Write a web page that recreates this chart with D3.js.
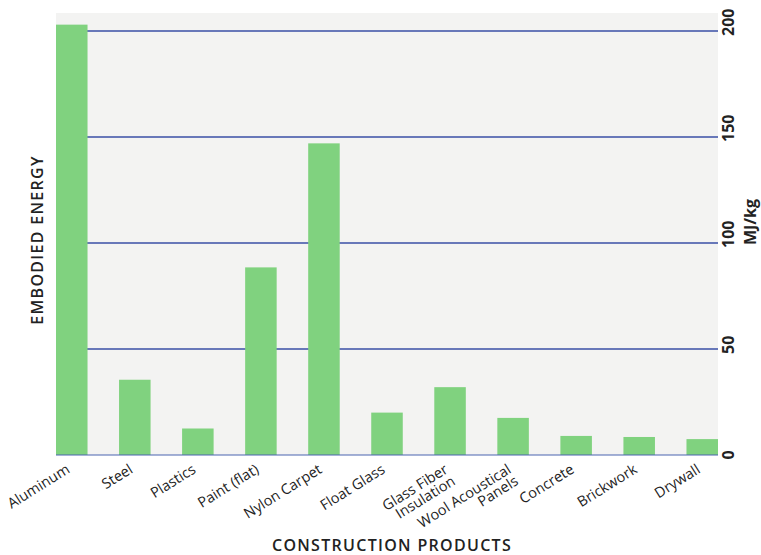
<!DOCTYPE html>
<html>
<head>
<meta charset="utf-8">
<script src="https://cdn.jsdelivr.net/npm/d3@7"></script>
<style>
  html, body { margin: 0; padding: 0; background: #ffffff; }
  svg { display: block; }
</style>
</head>
<body>
<div id="chart"></div>
<script>
// Embodied energy of construction products (MJ/kg)
const products = [
  ['Aluminum'], ['Steel'], ['Plastics'], ['Paint (flat)'], ['Nylon Carpet'],
  ['Float Glass'], ['Glass Fiber', 'Insulation'], ['Wool Acoustical', 'Panels'],
  ['Concrete'], ['Brickwork'], ['Drywall']
];
const energy = [203, 35.5, 12.5, 88.5, 147, 20, 32, 17.5, 9, 8.5, 7.5];
const yTicks = [0, 50, 100, 150, 200];

const width = 761;
const height = 555;
const plot = { left: 56, right: 718, top: 13, bottom: 455 };

const svg = d3.select('#chart')
  .append('svg')
  .attr('width', width)
  .attr('height', height);

const x = d3.scaleBand()
  .domain(d3.range(products.length))
  .range([plot.left, plot.right])
  .paddingInner(0.5)
  .paddingOuter(0);

const y = d3.scaleLinear()
  .domain([0, 200])
  .range([plot.bottom, 31]);

// Paper-like plot background
svg.append('rect')
  .attr('x', plot.left).attr('y', plot.top)
  .attr('width', plot.right - plot.left)
  .attr('height', plot.bottom - plot.top)
  .attr('fill', '#f3f3f2');

// Grid lines
svg.append('g')
  .selectAll('line')
  .data(yTicks.filter(d => d > 0))
  .join('line')
  .attr('x1', plot.left).attr('x2', plot.right)
  .attr('y1', d => y(d)).attr('y2', d => y(d))
  .attr('stroke', '#3a4fa6')
  .attr('stroke-width', 1.5);

// Bars
svg.append('g')
  .selectAll('rect')
  .data(energy)
  .join('rect')
  .attr('x', (d, i) => x(i))
  .attr('y', d => y(d))
  .attr('width', x.bandwidth())
  .attr('height', d => y(0) - y(d))
  .attr('fill', '#80d27f');

// Baseline
svg.append('line')
  .attr('x1', plot.left).attr('x2', plot.right)
  .attr('y1', y(0)).attr('y2', y(0))
  .attr('stroke', '#4a64b0')
  .attr('stroke-width', 1.2);

// Right-hand value labels (rotated)
svg.append('g')
  .selectAll('text')
  .data(yTicks)
  .join('text')
  .attr('transform', d => `translate(734, ${d === 0 ? y(d) : y(d) + 5}) rotate(-90)`)
  .attr('text-anchor', d => d === 0 ? 'middle' : 'start')
  .attr('fill', '#222')
  .attr('font-size', '16px')
  .attr('font-weight', 700)
  .attr('font-family', '"Open Sans", sans-serif')
  .text(d => d);

// Category labels (rotated)
const labels = svg.append('g')
  .selectAll('text')
  .data(products)
  .join('text')
  .attr('transform', (d, i) => `translate(${x(i) + x.bandwidth() / 2 - 1}, 472) rotate(-32)`)
  .attr('text-anchor', 'end')
  .attr('fill', '#222')
  .attr('font-size', '14.5px')
  .attr('font-family', '"Open Sans", sans-serif');

labels.selectAll('tspan')
  .data(d => d)
  .join('tspan')
  .attr('x', 0)
  .attr('dy', (d, i) => i === 0 ? 0 : '0.95em')
  .text(d => d);

// Axis titles
svg.append('text')
  .attr('transform', `translate(43, 240) rotate(-90)`)
  .attr('text-anchor', 'middle')
  .attr('fill', '#222')
  .attr('font-size', '16px')
  .attr('font-weight', 600)
  .attr('letter-spacing', '1.3px')
  .attr('font-family', '"Open Sans", sans-serif')
  .text('EMBODIED ENERGY');

svg.append('text')
  .attr('transform', `translate(756, 222) rotate(-90)`)
  .attr('text-anchor', 'middle')
  .attr('fill', '#222')
  .attr('font-size', '16px')
  .attr('font-weight', 700)
  .attr('font-family', '"Open Sans", sans-serif')
  .text('MJ/kg');

svg.append('text')
  .attr('x', 392)
  .attr('y', 551)
  .attr('text-anchor', 'middle')
  .attr('fill', '#222')
  .attr('font-size', '16px')
  .attr('font-weight', 600)
  .attr('letter-spacing', '1.3px')
  .attr('font-family', '"Open Sans", sans-serif')
  .text('CONSTRUCTION PRODUCTS');
</script>
</body>
</html>
